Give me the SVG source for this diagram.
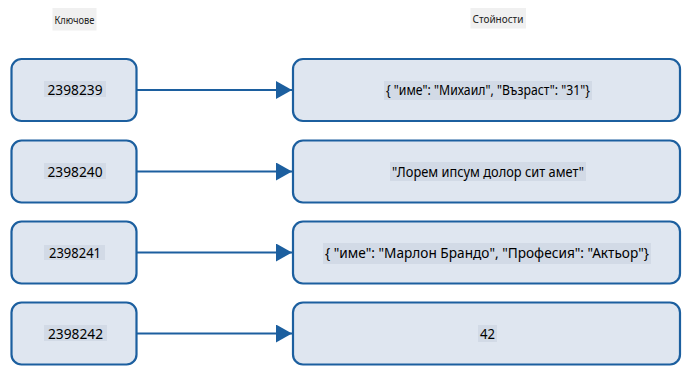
<svg xmlns="http://www.w3.org/2000/svg" width="698" height="382" viewBox="0 0 698 382">
<defs>
<style>
.box{fill:#dfe6f0;stroke:#1c5f9f;stroke-width:2.2}
.hl{fill:#d2dae6}
.hh{fill:#f0f0f0}
.t{font-family:"Noto Sans","Open Sans",sans-serif;font-size:14px;fill:#000;text-anchor:middle}
.v{font-family:"Noto Sans","Open Sans",sans-serif;font-size:13.5px;fill:#000;text-anchor:middle}
.h{font-family:"Noto Sans","Open Sans",sans-serif;font-size:10px;fill:#222;text-anchor:middle}
.c{stroke:#1c5f9f;stroke-width:2.2;fill:none}
</style>
<marker id="ah" markerUnits="userSpaceOnUse" markerWidth="16" markerHeight="18" refX="16" refY="9" orient="auto">
<path d="M0,0 L16,9 L0,18 Z" fill="#1c5f9f"/>
</marker>
</defs>
<rect width="698" height="382" fill="#fff"/>
<g id="header-keys"><rect class="hh" x="52.5" y="8" width="44" height="22.5"/><text class="h" x="74.5" y="24" textLength="40" lengthAdjust="spacingAndGlyphs">Ключове</text></g>
<g id="header-values"><rect class="hh" x="470.5" y="8" width="55.5" height="20.5"/><text class="h" x="498" y="23" textLength="51" lengthAdjust="spacingAndGlyphs">Стойности</text></g>

<g id="connectors">
<line class="c" x1="137" y1="90" x2="292" y2="90" marker-end="url(#ah)"/>
<line class="c" x1="137" y1="171.5" x2="292" y2="171.5" marker-end="url(#ah)"/>
<line class="c" x1="137" y1="252.5" x2="292" y2="252.5" marker-end="url(#ah)"/>
<line class="c" x1="137" y1="333.5" x2="292" y2="333.5" marker-end="url(#ah)"/>
</g>

<g id="key1"><rect class="box" x="11.5" y="59" width="125" height="62" rx="10"/><rect class="hl" x="44" y="81" width="62" height="16"/><text class="t" x="75" y="95" textLength="55" lengthAdjust="spacingAndGlyphs">2398239</text></g>
<g id="key2"><rect class="box" x="11.5" y="140.5" width="125" height="62" rx="10"/><rect class="hl" x="44" y="163" width="62" height="16"/><text class="t" x="75" y="176.5" textLength="55" lengthAdjust="spacingAndGlyphs">2398240</text></g>
<g id="key3"><rect class="box" x="11.5" y="221.5" width="125" height="62" rx="10"/><rect class="hl" x="44" y="245" width="61" height="15"/><text class="t" x="75" y="257.5" textLength="52" lengthAdjust="spacingAndGlyphs">2398241</text></g>
<g id="key4"><rect class="box" x="11.5" y="302.5" width="125" height="62" rx="10"/><rect class="hl" x="44" y="325" width="63" height="16"/><text class="t" x="75.5" y="338.5" textLength="55" lengthAdjust="spacingAndGlyphs">2398242</text></g>

<g id="val1"><rect class="box" x="293" y="59" width="387" height="62" rx="10"/><rect class="hl" x="384" y="81" width="208" height="19"/><text class="v" x="488" y="95" textLength="204" lengthAdjust="spacingAndGlyphs">{ "име": "Михаил", "Възраст": "31"}</text></g>
<g id="val2"><rect class="box" x="293" y="140.5" width="387" height="62" rx="10"/><rect class="hl" x="390" y="162" width="196" height="19"/><text class="v" x="488" y="176.5" textLength="192" lengthAdjust="spacingAndGlyphs">"Лорем ипсум долор сит амет"</text></g>
<g id="val3"><rect class="box" x="293" y="221.5" width="387" height="62" rx="10"/><rect class="hl" x="323" y="243" width="328" height="21"/><text class="v" x="487" y="258" textLength="324" lengthAdjust="spacingAndGlyphs">{ "име": "Марлон Брандо", "Професия": "Актьор"}</text></g>
<g id="val4"><rect class="box" x="293" y="302.5" width="387" height="62" rx="10"/><rect class="hl" x="478" y="325" width="19" height="17"/><text class="v" x="487.5" y="338.5" textLength="15" lengthAdjust="spacingAndGlyphs">42</text></g>
</svg>
